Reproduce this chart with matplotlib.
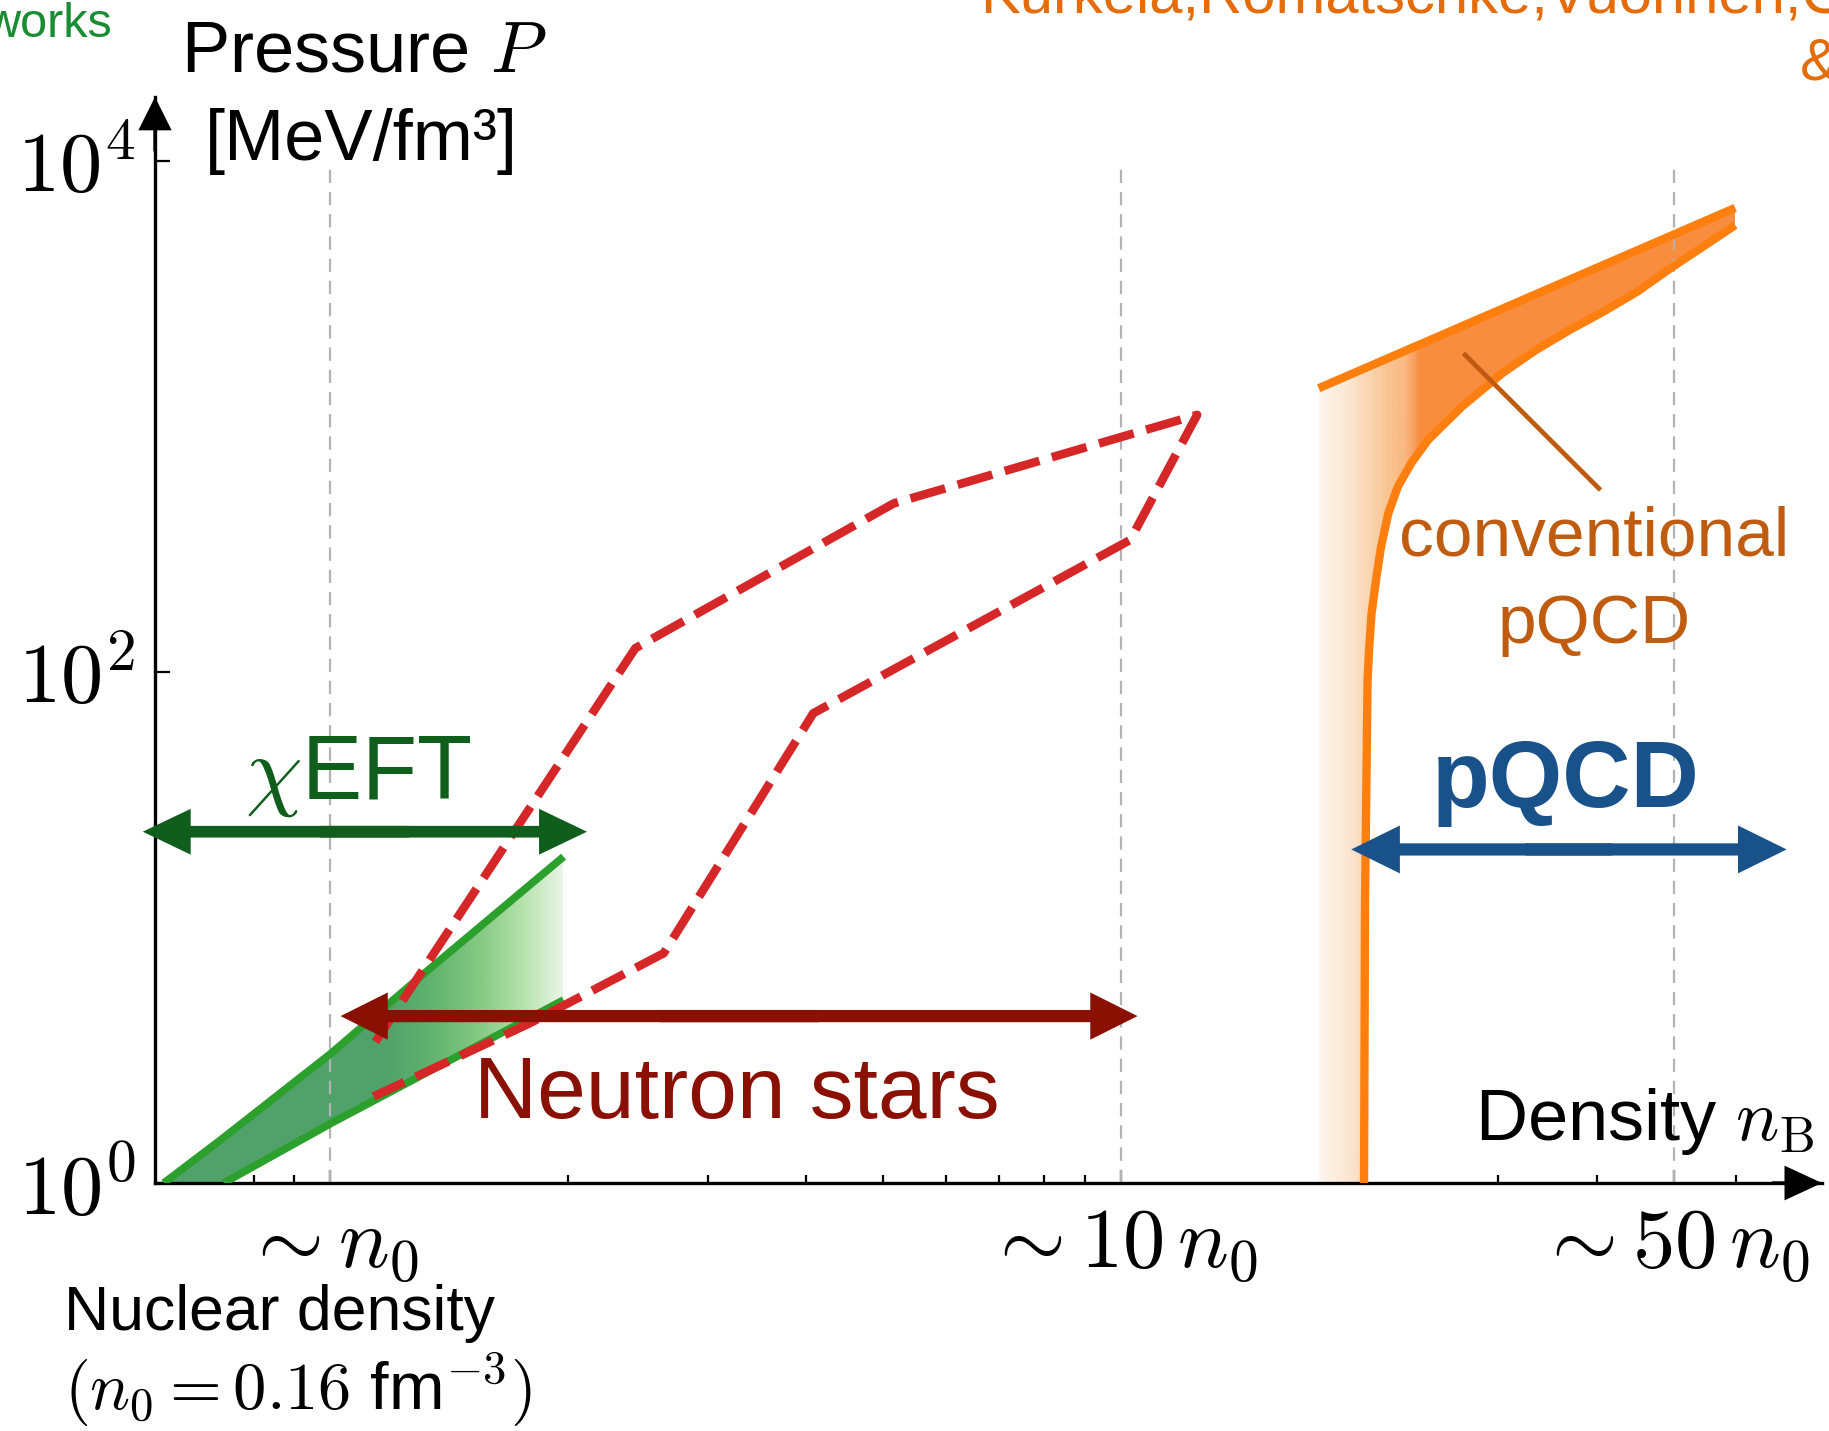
import numpy as np
import matplotlib.pyplot as plt
from matplotlib.patches import FancyArrowPatch, Polygon
from matplotlib.ticker import NullFormatter, NullLocator

plt.rcParams['font.family'] = ['Liberation Sans', 'DejaVu Sans']
plt.rcParams['mathtext.fontset'] = 'cm'

W, H = 1829, 1431

# density n_B in units of n0, pressure P in MeV/fm^3
eft_up_n = [0.6156, 0.7261, 1.002, 1.2995, 1.972]
eft_up_p = [1.0, 1.473, 3.218, 6.42, 18.93]
eft_lo_n = [0.7329, 1.002, 1.432, 1.972]
eft_lo_p = [1.0, 1.713, 3.076, 5.202]

# neutron star band outline (upper edge -> tip -> lower edge)
ns_n = [1.140, 2.43, 5.16, 12.48, 10.27, 4.08, 2.64, 1.79, 1.134]
ns_p = [3.57, 123.8, 457, 1014, 328.6, 68.9, 7.93, 4.23, 2.18]

# conventional pQCD band
pqcd_up_n = [17.78, 59.8]
pqcd_up_p = [1289, 6546]
pqcd_lo_n = [20.29, 20.35, 20.50, 20.60, 20.74, 21.01, 21.32, 21.78, 22.39,
             23.28, 24.45, 25.69, 26.98, 28.62, 30.35, 33.49, 36.94, 40.75,
             44.97, 49.6, 54.7, 59.8]
pqcd_lo_p = [1.0, 12.8, 93.0, 125.6, 169.7, 229, 309, 418, 531,
             656, 809, 941, 1092, 1270, 1476, 1821, 2181, 2572,
             3079, 3813, 4661, 5602]
pointer_n = [27.1, 40.4]
pointer_p = [1767, 515]

# validity ranges (n in n0) and the pressure level where each arrow sits
eft_range, eft_level = (0.579, 2.111), 23.7
ns_range, ns_level = (1.03, 10.49), 4.50
pqcd_range, pqcd_level = (19.55, 69.46), 20.2

x_major = [1, 10, 50]
x_major_labels = [r'$\sim n_0$', r'$\sim 10\,n_0$', r'$\sim 50\,n_0$']
x_minor = [0.7, 0.8, 0.9, 2, 3, 4, 5, 6, 7, 8, 9, 20, 30, 40, 60, 70]
y_major = [1, 1e2, 1e4]
y_major_labels = [r'$10^0$', r'$10^2$', r'$10^4$']

# colour ramps for the faded fills (position in n0, rgb)
eft_ramp_n = [0.6, 1.18, 1.35, 1.55, 1.75, 1.972]
eft_ramp_rgb = [(80, 162, 106), (80, 162, 106), (98, 180, 112),
                (135, 202, 133), (182, 226, 172), (236, 246, 232)]
pqcd_ramp_n = [17.78, 19.2, 20.5, 21.7, 22.8, 23.4, 23.8, 60]
pqcd_ramp_rgb = [(254, 245, 237), (252, 232, 212), (250, 214, 178),
                 (249, 196, 146), (249, 184, 128), (248, 160, 95),
                 (248, 141, 63), (248, 141, 63)]

fig = plt.figure(figsize=(W / 100, H / 100), dpi=100)
left, right, bottom, top = 155, 1822, 1183, 97
ax = fig.add_axes([left / W, 1 - bottom / H, (right - left) / W, (bottom - top) / H])
ax.set_xscale('log')
ax.set_yscale('log')


def faded_fill(xs, ys, ramp_n, ramp_rgb, zorder=2):
    poly = Polygon(np.column_stack([xs, ys]), closed=True, fc='none', ec='none')
    ax.add_patch(poly)
    x0, x1 = min(xs), max(xs)
    cols = np.linspace(x0, x1, 1200)
    rgb = np.array(ramp_rgb) / 255.0
    img = np.ones((1, cols.size, 4))
    for c in range(3):
        img[0, :, c] = np.interp(np.log10(cols), np.log10(ramp_n), rgb[:, c])
    im = ax.imshow(img, extent=[x0, x1, min(ys), max(ys)], aspect='auto',
                   interpolation='bilinear', zorder=zorder)
    im.set_clip_path(poly)


def span_arrow(n0, n1, p, color, head_len, head_w, tail_w):
    style = f'simple,head_length={head_len},head_width={head_w},tail_width={tail_w}'
    starts = (n0 ** 0.4 * n1 ** 0.6, n0 ** 0.6 * n1 ** 0.4)
    for start, end in zip(starts, (n0, n1)):
        ax.add_patch(FancyArrowPatch((start, p), (end, p), arrowstyle=style,
                                     mutation_scale=1, color=color, lw=0,
                                     shrinkA=0, shrinkB=0, clip_on=False, zorder=6))


# chiral EFT band
eft_xs = eft_up_n + eft_lo_n[::-1]
eft_ys = eft_up_p + eft_lo_p[::-1]
faded_fill(eft_xs, eft_ys, eft_ramp_n, eft_ramp_rgb)
ax.plot(eft_up_n, eft_up_p, color='#2ca02c', lw=5.5, solid_capstyle='butt', zorder=3)
ax.plot(eft_lo_n, eft_lo_p, color='#2ca02c', lw=5.5, solid_capstyle='butt', zorder=3)

# pQCD band, open towards the axis on its low-density side
pq_xs = pqcd_up_n + pqcd_lo_n[::-1] + [pqcd_up_n[0]]
pq_ys = pqcd_up_p + pqcd_lo_p[::-1] + [pqcd_lo_p[0]]
faded_fill(pq_xs, pq_ys, pqcd_ramp_n, pqcd_ramp_rgb)
ax.plot(pqcd_up_n, pqcd_up_p, color='#ff7f0e', lw=6, solid_capstyle='butt', zorder=3)
ax.plot(pqcd_lo_n, pqcd_lo_p, color='#ff7f0e', lw=6, solid_capstyle='butt', zorder=3)
ax.plot(pointer_n, pointer_p, color='#bf5a10', lw=3.4, solid_capstyle='butt', zorder=4)

# neutron star constraints
ax.plot(ns_n, ns_p, color='#d62728', lw=6.2, linestyle=(0, (4.2, 1.5)), zorder=4)

# reference densities
ax.vlines(x_major, 1, 1e4, colors='#b3b3b3', lw=1.6, linestyles=(0, (6, 4)), zorder=2.5)

span_arrow(*eft_range, eft_level, '#0f5e1c', 34.5, 33, 8.4)
span_arrow(*ns_range, ns_level, '#8a1003', 34, 34, 8.8)
span_arrow(*pqcd_range, pqcd_level, '#19528a', 35, 34.5, 8.8)

ax.set_xlim(0.6, 77)
ax.set_ylim(1, 10 ** 4.25)

ax.set_xticks(x_major)
ax.set_xticklabels(x_major_labels)
ax.set_xticks(x_minor, minor=True)
ax.xaxis.set_minor_formatter(NullFormatter())
ax.set_yticks(y_major)
ax.set_yticklabels(y_major_labels)
ax.yaxis.set_minor_locator(NullLocator())
ax.tick_params(axis='x', which='major', direction='in', length=9.5, width=1.6,
               labelsize=61, pad=16)
ax.tick_params(axis='x', which='minor', direction='in', length=5.5, width=1.6)
ax.tick_params(axis='y', which='major', direction='in', length=11, width=1.6,
               labelsize=61, pad=14)

for side in ('top', 'right'):
    ax.spines[side].set_visible(False)
for side in ('left', 'bottom'):
    ax.spines[side].set_linewidth(2.4)

# arrowheads on the axes
for start, end, hl, hw in [((0, 0.95), (0, 1), 24, 24), ((0.97, 0), (1, 0), 27, 25)]:
    ax.add_patch(FancyArrowPatch(start, end, transform=ax.transAxes,
                                 arrowstyle=f'simple,head_length={hl},head_width={hw},tail_width=2.4',
                                 mutation_scale=1, color='k', lw=0, shrinkA=0, shrinkB=0,
                                 clip_on=False, zorder=7))


def label(x, y, s, **kw):
    fig.text(x / W, 1 - y / H, s, va='baseline', **kw)


label(181, 72, r'Pressure $P$', fontsize=52)
label(205, 160, '[MeV/fm³]', fontsize=52)
label(1475, 1140, r'Density $n_{\mathrm{B}}$', fontsize=52)
label(64, 1330, 'Nuclear density', fontsize=45)
label(64, 1410, r'$(n_0 = 0.16$ fm$^{-3})$', fontsize=48)

label(245, 799, r'$\chi$EFT', fontsize=65, color='#0f5e1c')
label(474, 1118, 'Neutron stars', fontsize=63, color='#8a1003')
label(1432, 807, 'pQCD', fontsize=68, fontweight='bold', color='#19528a')
label(1594, 555, 'conventional', fontsize=50, color='#c05c10', ha='center')
label(1594, 643, 'pQCD', fontsize=50, color='#c05c10', ha='center')

label(112, 37, 'works', fontsize=35, color='#1a8c34', ha='right')
label(980, 12, 'Kurkela,Romatschke,Vuorinen,Gorda', fontsize=43, color='#e46c0a')
label(1800, 79, '&', fontsize=43, color='#e46c0a')

fig.savefig('out.png', dpi=100)
